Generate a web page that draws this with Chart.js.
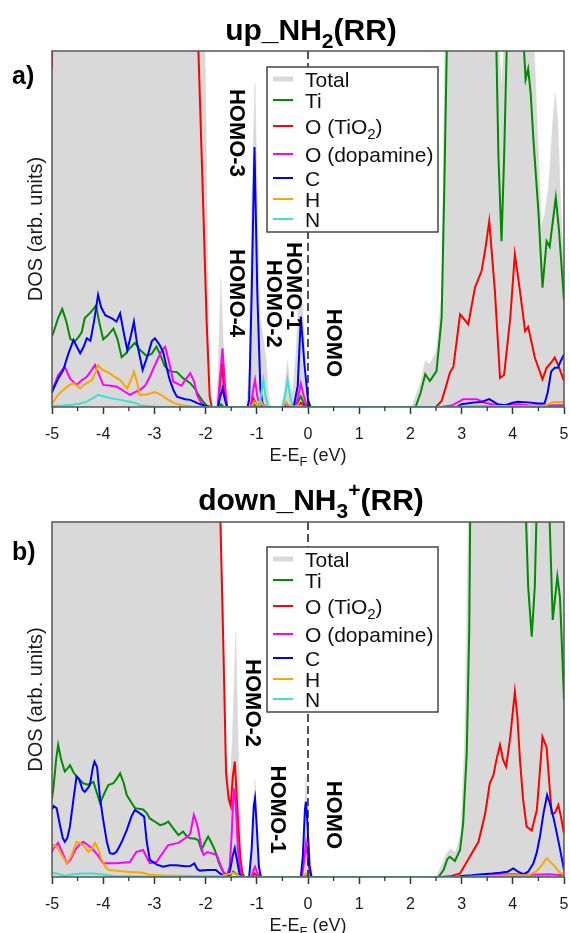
<!DOCTYPE html>
<html><head><meta charset="utf-8">
<script src="https://cdn.jsdelivr.net/npm/chart.js@4.4.1/dist/chart.umd.min.js"></script>
<style>
html,body{margin:0;padding:0;background:#fff;}
#wrap{position:relative;width:570px;height:933px;overflow:hidden;background:#fff;}
canvas{position:absolute;left:0;}
</style></head><body>
<div id="wrap">
<canvas id="cA" width="570" height="470" style="top:0px"></canvas>
<canvas id="cB" width="570" height="463" style="top:470px"></canvas>
</div>
<script>
// ---------------- DATA ----------------
const energyMin = -5, energyMax = 5, energyStep = 1;
const seriesNames = ['Total', 'Ti', 'O (TiO_{2})', 'O (dopamine)', 'C', 'H', 'N'];
const xTitle = 'E-E_{F} (eV)';
const yTitle = 'DOS (arb. units)';
const titleUp = 'up_NH_{2}(RR)';
const titleDown = 'down_NH_{3}^{+}(RR)';

// panel a) up_NH2(RR)  [energy eV, DOS arb.]
const upTotal = [[-5,160],[-2.05,160],[-2.01,100],[-1.92,0],[-1.80,0],[-1.76,8],[-1.70,36],[-1.64,12],[-1.58,0],[-1.20,0],[-1.15,10],[-1.10,58],[-1.035,91],[-0.99,58],[-0.94,25],[-0.88,20],[-0.82,14],[-0.77,3],[-0.72,0],[-0.52,0],[-0.46,5],[-0.40,13],[-0.35,6],[-0.30,4],[-0.24,14],[-0.19,28],[-0.14,34],[-0.08,22],[-0.03,8],[0.04,0],[2.02,0],[2.10,3],[2.20,7],[2.29,13],[2.38,12],[2.51,16],[2.61,32],[2.67,100],[2.72,160],[3.62,160],[3.70,110],[3.78,90],[3.86,110],[3.94,160],[4.38,160],[4.42,100],[4.50,72],[4.56,51],[4.62,54],[4.70,62],[4.78,80],[4.83,88],[4.88,80],[4.94,55],[5,39]];
const upTi = [[-5,20],[-4.97,21],[-4.88,25],[-4.80,27.5],[-4.72,24],[-4.64,19],[-4.55,18.5],[-4.49,19.5],[-4.42,21],[-4.36,25],[-4.25,26.5],[-4.14,28.5],[-4.08,24],[-4.00,19],[-3.92,20],[-3.80,22],[-3.72,19],[-3.64,14],[-3.56,15],[-3.48,16.5],[-3.38,18],[-3.28,16],[-3.15,14.3],[-3.05,15],[-2.96,17],[-2.88,14.5],[-2.80,11.5],[-2.70,10],[-2.56,9.8],[-2.44,8.1],[-2.30,6.7],[-2.20,5],[-2.14,3.4],[-2.05,1.5],[-1.95,0],[-1.75,0],[-1.70,0.8],[-1.65,0],[-1.10,0],[-1.04,0.8],[-0.98,0],[-0.25,0],[-0.14,3],[-0.05,0],[2.10,0],[2.20,4],[2.29,9.2],[2.38,7.3],[2.51,10.1],[2.61,25],[2.66,60],[2.71,100],[2.76,160],[3.62,160],[3.68,100],[3.72,70],[3.78,46.6],[3.83,70],[3.88,100],[3.92,160],[4.18,160],[4.22,100],[4.25,92],[4.30,95],[4.35,88],[4.40,75.6],[4.50,55],[4.58,33.5],[4.66,46.6],[4.72,45],[4.78,52],[4.84,58.8],[4.90,50],[4.96,38],[5,30]];
const upOTiO2 = [[-5,95],[-4.98,160],[-2.20,160],[-2.14,100],[-2.05,58],[-1.98,24],[-1.92,3],[-1.88,0],[-1.76,0],[-1.72,6],[-1.68,12.3],[-1.64,5],[-1.58,0],[-1.12,0],[-1.07,2.5],[-1.02,1],[-0.95,0.5],[-0.90,0],[-0.20,0],[-0.14,1.2],[-0.05,0],[2.50,0],[2.61,1.7],[2.70,6],[2.77,9.6],[2.84,11.3],[2.97,26],[3.03,25],[3.13,23.2],[3.26,33.5],[3.39,38.2],[3.47,45],[3.54,52.2],[3.65,32.6],[3.75,8.2],[3.83,9],[3.95,25],[4.04,42.9],[4.14,32.6],[4.24,21.3],[4.30,22.5],[4.43,13.9],[4.58,7.8],[4.66,11],[4.75,12.5],[4.82,13.9],[4.88,12],[5,7.3]];
const upODop = [[-5,5],[-4.97,5.6],[-4.88,9],[-4.75,11.3],[-4.65,8],[-4.52,6.2],[-4.42,7.5],[-4.32,8.5],[-4.22,10.5],[-4.16,11.8],[-4.08,9],[-4.00,6.2],[-3.85,6],[-3.73,5.7],[-3.60,4.5],[-3.48,3.4],[-3.38,4.2],[-3.29,4.7],[-3.18,6],[-3.09,8.5],[-2.95,13],[-2.85,16],[-2.79,16.9],[-2.72,13],[-2.63,7.1],[-2.47,6],[-2.38,8],[-2.30,9.5],[-2.22,7],[-2.17,3.5],[-2.08,1],[-2.00,0.3],[-1.90,0],[-1.76,0],[-1.72,8],[-1.67,16.5],[-1.62,6],[-1.58,0],[-1.12,0],[-1.08,4],[-1.035,7.6],[-0.99,3],[-0.95,1],[-0.90,1.2],[-0.86,0.5],[-0.80,0],[-0.48,0],[-0.42,1],[-0.36,0],[-0.25,0],[-0.19,3],[-0.14,6.6],[-0.09,3.5],[-0.03,0.5],[0.05,0],[2.60,0],[2.80,0.4],[2.95,1.5],[3.03,2.2],[3.30,2.2],[3.45,1.2],[3.60,0.8],[3.80,0.5],[4.10,0.8],[4.30,0.5],[4.60,0.4],[5,0.5]];
const upC = [[-5,4],[-4.97,5.2],[-4.88,8],[-4.78,10.4],[-4.68,15],[-4.58,18.8],[-4.50,16.5],[-4.45,15.1],[-4.38,17],[-4.32,19.3],[-4.25,18.6],[-4.18,24],[-4.10,31.5],[-4.04,28],[-3.96,25.8],[-3.83,24.9],[-3.74,24],[-3.67,26.3],[-3.60,21],[-3.53,16],[-3.46,20],[-3.40,24],[-3.34,18],[-3.23,10.4],[-3.12,15],[-3.05,18.5],[-2.99,19.3],[-2.90,17.5],[-2.83,15.5],[-2.76,11],[-2.70,7.6],[-2.62,4.5],[-2.56,2.9],[-2.40,2.2],[-2.30,2],[-2.15,1],[-2.00,0.3],[-1.90,0],[-1.76,0],[-1.72,2.5],[-1.67,5.2],[-1.62,2],[-1.58,0],[-1.18,0],[-1.15,2],[-1.10,32],[-1.045,73],[-0.99,32],[-0.93,5],[-0.88,0],[-0.28,0],[-0.20,6],[-0.14,25.4],[-0.07,12],[0.00,2],[0.05,0],[2.90,0],[3.00,0.8],[3.20,1.2],[3.40,1.5],[3.54,2.2],[3.70,0.8],[3.85,0.5],[4.00,1.2],[4.10,1.5],[4.30,1.3],[4.50,1.0],[4.62,1],[4.68,4],[4.75,10],[4.82,11],[4.88,11],[4.94,13],[5,14.8]];
const upH = [[-5,1],[-4.97,1.5],[-4.88,3.5],[-4.78,4.8],[-4.68,6],[-4.58,6.7],[-4.45,5.2],[-4.35,6.5],[-4.22,7.6],[-4.14,10],[-4.10,11.8],[-4.02,10.5],[-3.90,9.7],[-3.78,8.5],[-3.67,7.6],[-3.58,6],[-3.53,5.2],[-3.45,8],[-3.40,9.9],[-3.34,7],[-3.29,3.4],[-3.15,3.5],[-2.99,4.2],[-2.88,3.5],[-2.76,2.3],[-2.60,1],[-2.44,0.4],[-2.20,0.1],[-2.00,0],[-1.10,0],[-1.05,1.5],[-1.00,0.5],[-0.93,2],[-0.88,0.5],[-0.80,0],[-0.50,0],[-0.43,1.5],[-0.38,0.5],[-0.30,0],[-0.20,0.5],[-0.10,0],[2.90,0],[3.20,0.3],[4.00,0.3],[4.60,0.3],[4.70,0.8],[4.80,1.4],[5,1.4]];
const upN = [[-5,0.3],[-4.80,0.4],[-4.60,0.6],[-4.45,1],[-4.32,1.5],[-4.20,2.5],[-4.10,3.4],[-4.00,3],[-3.87,2.5],[-3.67,2],[-3.48,1.5],[-3.35,1],[-3.29,0.5],[-3.10,0.2],[-2.90,0],[-0.95,0],[-0.91,4],[-0.87,7.6],[-0.83,3],[-0.78,0],[-0.50,0],[-0.45,3],[-0.40,7.6],[-0.35,3],[-0.30,0],[5,0]];

// panel b) down_NH3+(RR)
const downTotal = [[-5,160],[-1.74,160],[-1.70,100],[-1.65,70],[-1.60,34],[-1.53,26],[-1.48,38],[-1.41,69],[-1.36,35],[-1.32,15],[-1.28,2],[-1.25,0],[-1.15,0],[-1.10,8],[-1.035,27.3],[-0.98,10],[-0.92,0],[-0.15,0],[-0.10,8],[-0.04,28.3],[0.02,10],[0.08,0],[2.50,0],[2.60,3],[2.70,6.5],[2.78,8],[2.88,7],[2.98,12],[3.06,38],[3.13,100],[3.18,160],[4.26,160],[4.33,84.5],[4.40,160],[5,160]];
const downTi = [[-5,22],[-4.97,25.4],[-4.92,33],[-4.88,37.2],[-4.82,33],[-4.75,29.7],[-4.70,30.5],[-4.65,31.5],[-4.58,29.5],[-4.52,28.3],[-4.39,26.4],[-4.30,26],[-4.19,26.8],[-4.12,23.5],[-4.06,20.8],[-3.98,23.5],[-3.90,25.9],[-3.80,26.4],[-3.72,28],[-3.67,29.2],[-3.60,26.5],[-3.54,23.1],[-3.45,21],[-3.38,19.4],[-3.22,19],[-3.15,18],[-3.09,16.5],[-2.98,15.5],[-2.89,14.6],[-2.80,15],[-2.73,15.6],[-2.62,13.5],[-2.53,11.8],[-2.44,12.8],[-2.37,11.5],[-2.30,10.9],[-2.20,10.8],[-2.14,10.3],[-2.08,7.6],[-2.02,9.5],[-1.95,11.4],[-1.88,9.5],[-1.82,7.6],[-1.74,4],[-1.66,1.5],[-1.58,0.5],[-1.52,0.5],[-1.46,1.5],[-1.40,0.8],[-1.32,0],[-0.10,0],[-0.04,0.8],[0.04,0],[2.55,0],[2.65,2],[2.72,5],[2.77,5.7],[2.87,4.5],[2.97,7.6],[3.03,15],[3.10,34.8],[3.15,70],[3.20,160],[4.22,160],[4.26,100],[4.30,81.8],[4.37,67.7],[4.43,81.8],[4.46,100],[4.50,160],[4.68,160],[4.72,100],[4.78,72.4],[4.87,84.6],[4.92,79],[4.96,65],[5,49.9]];
const downOTiO2 = [[-5,160],[-1.74,160],[-1.71,100],[-1.65,63],[-1.60,29.2],[-1.55,22],[-1.51,20],[-1.47,28],[-1.43,32.5],[-1.39,22],[-1.36,14],[-1.32,5],[-1.28,1],[-1.24,0],[-1.10,0],[-1.04,1],[-0.98,0],[2.60,0],[2.80,0.3],[2.97,1],[3.16,5.7],[3.33,9.9],[3.46,17.8],[3.55,26.4],[3.62,28.6],[3.68,33],[3.75,37.2],[3.81,33],[3.87,31.1],[3.95,39.4],[4.04,52.2],[4.09,45],[4.14,33],[4.20,22],[4.27,14.2],[4.37,13.1],[4.47,18.9],[4.53,30],[4.58,39.5],[4.62,38],[4.66,36.6],[4.71,27],[4.76,17.9],[4.82,18],[4.89,20.3],[4.94,17],[5,12.2]];
const downODop = [[-5,7],[-4.97,8.1],[-4.88,9.6],[-4.80,7],[-4.71,3.9],[-4.63,5],[-4.55,7.6],[-4.47,9],[-4.39,9.9],[-4.30,9],[-4.22,8.1],[-4.10,6],[-4.00,3.9],[-3.74,3.9],[-3.48,4.2],[-3.40,6],[-3.35,7.1],[-3.22,7.6],[-3.15,5.5],[-3.09,3.9],[-2.96,4.2],[-2.85,6.5],[-2.73,9],[-2.53,9.6],[-2.40,10.9],[-2.30,12.2],[-2.23,17.5],[-2.18,15.5],[-2.14,13.1],[-2.08,8],[-2.04,6.2],[-1.96,7],[-1.91,6.8],[-1.84,6.5],[-1.78,6.2],[-1.70,3],[-1.64,1],[-1.58,0.5],[-1.53,3],[-1.49,12],[-1.46,22],[-1.44,25],[-1.41,20],[-1.37,8],[-1.32,1],[-1.28,0],[-1.10,0],[-1.06,2],[-1.035,2.9],[-1.00,1.5],[-0.95,0],[-0.12,0],[-0.08,4],[-0.04,9.5],[0.00,5],[0.05,0],[3.00,0],[3.30,0.4],[3.60,0.6],[4.00,0.8],[4.40,0.6],[4.70,0.8],[5,0.5]];
const downC = [[-5,19],[-4.97,20],[-4.91,19.4],[-4.85,15],[-4.79,11],[-4.75,9.9],[-4.70,11],[-4.65,14.2],[-4.58,22],[-4.52,28.3],[-4.47,27.5],[-4.40,24.5],[-4.36,24],[-4.30,25],[-4.26,25.9],[-4.20,31],[-4.17,32.5],[-4.12,31],[-4.06,22],[-4.00,16.1],[-3.93,10],[-3.87,6.7],[-3.80,6.5],[-3.74,7.1],[-3.65,9.5],[-3.54,13.2],[-3.45,17],[-3.38,18.9],[-3.29,18],[-3.20,17],[-3.15,10],[-3.09,4.8],[-2.95,3.5],[-2.83,2.9],[-2.70,3.3],[-2.57,3.3],[-2.40,3],[-2.30,3.1],[-2.22,3.8],[-2.16,2.2],[-2.11,1.8],[-1.95,2],[-1.80,2],[-1.70,0.8],[-1.64,0.3],[-1.58,0],[-1.52,2],[-1.47,6],[-1.43,8.1],[-1.39,5],[-1.34,1],[-1.30,0],[-1.15,0],[-1.10,8],[-1.06,20],[-1.035,22.2],[-1.00,14],[-0.96,3],[-0.92,0],[-0.14,0],[-0.10,6],[-0.06,19],[-0.04,21.2],[-0.01,15],[0.03,3],[0.07,0],[2.90,0],[3.00,0.3],[3.20,0.5],[3.40,0.8],[3.60,1],[3.75,1.2],[3.90,1.5],[4.01,2.4],[4.10,1.5],[4.21,0.8],[4.30,1.5],[4.40,3.8],[4.47,7],[4.53,11.4],[4.60,18],[4.67,23.1],[4.72,21],[4.79,17],[4.85,13],[4.92,8],[5,2]];
const downH = [[-5,8],[-4.97,9],[-4.90,8.5],[-4.80,6],[-4.71,3.9],[-4.62,6],[-4.52,9.9],[-4.45,9.5],[-4.39,9],[-4.29,7.1],[-4.22,8],[-4.16,9.6],[-4.10,8],[-4.03,4.8],[-3.95,2.8],[-3.90,2],[-3.54,1.5],[-3.22,1.2],[-3.09,0.6],[-2.80,0.4],[-2.30,0.3],[-2.00,0.2],[-1.70,0.2],[-1.46,1.2],[-1.38,0.5],[-1.30,0],[-0.10,0],[-0.04,1],[0.03,0],[3.00,0],[3.50,0.3],[4.00,0.5],[4.30,0.5],[4.45,1.5],[4.55,3],[4.66,5.3],[4.75,4],[4.82,3],[4.90,1.5],[5,0.5]];
const downN = [[-5,1.2],[-4.90,1.0],[-4.75,0.3],[-4.60,0.8],[-4.40,1],[-4.20,1],[-4.00,0.7],[-3.80,0.3],[-3.50,0.2],[-3.00,0.1],[-2.50,0],[5,0]];

// HOMO annotations (energy, DOS)
const upHomoText = ['HOMO-3','HOMO-4','HOMO-2','HOMO-1','HOMO'];
const upHomoE = [-1.40,-1.40,-0.68,-0.30,0.49];
const upHomoDos = [77,32,29,34,18];
const downHomoText = ['HOMO-2','HOMO-1','HOMO'];
const downHomoE = [-1.10,-0.61,0.49];
const downHomoDos = [49,19,17.5];

// ---------------- STYLE ----------------
const FONT = '"Liberation Sans", Arial, Helvetica, sans-serif';
const seriesColors = ['rgb(217,217,217)','rgb(0,139,0)','rgb(255,0,0)','rgb(255,0,255)','rgb(0,0,255)','rgb(255,165,0)','rgb(64,224,208)'];

function parseRich(s){
  const out=[]; const re=/([_^])\{([^}]*)\}/g; let last=0,m;
  while((m=re.exec(s))){ if(m.index>last) out.push({t:s.slice(last,m.index),k:0}); out.push({t:m[2],k:m[1]==='_'?1:2}); last=re.lastIndex; }
  if(last<s.length) out.push({t:s.slice(last),k:0});
  return out;
}
function drawRich(ctx, s, x, y, size, weight, color, align){
  const segs=parseRich(s); let w=0;
  for(const g of segs){ const fs=g.k?Math.round(size*0.7):size; ctx.font=`${weight} ${fs}px ${FONT}`; g.w=ctx.measureText(g.t).width; w+=g.w; }
  let cx = align==='center'? x-w/2 : x;
  ctx.fillStyle=color; ctx.textAlign='left'; ctx.textBaseline='alphabetic';
  for(const g of segs){
    const fs=g.k?Math.round(size*0.7):size; ctx.font=`${weight} ${fs}px ${FONT}`;
    const dy = g.k===1? size*0.25 : (g.k===2? -size*0.42 : 0);
    ctx.fillText(g.t,cx,y+dy); cx+=g.w;
  }
}

const decor = {
  id:'decor',
  afterDatasetsDraw(chart, args, o){
    const {ctx, chartArea:a, scales:{x,y}} = chart;
    ctx.save();
    const x0 = x.getPixelForValue(0);
    ctx.strokeStyle='#1a1a1a'; ctx.lineWidth=1.5; ctx.setLineDash([8,4]);
    ctx.beginPath(); ctx.moveTo(x0,a.top); ctx.lineTo(x0,a.bottom); ctx.stroke(); ctx.setLineDash([]);
    ctx.fillStyle='#000'; ctx.font=`bold 22px ${FONT}`; ctx.textAlign='center'; ctx.textBaseline='middle';
    o.homoText.forEach((t,i)=>{ ctx.save(); ctx.translate(x.getPixelForValue(o.homoE[i]), y.getPixelForValue(o.homoV[i])); ctx.rotate(Math.PI/2); ctx.fillText(t,0,0); ctx.restore(); });
    const lx=a.left+o.legendDx, ly=a.top+o.legendDy, lw=171, lh=165;
    ctx.fillStyle='#fff'; ctx.fillRect(lx,ly,lw,lh);
    ctx.strokeStyle='#444'; ctx.lineWidth=1.5; ctx.strokeRect(lx,ly,lw,lh);
    const rows=[12,33,59,87,111,132,152];
    chart.data.datasets.forEach((d,i)=>{
      const ry=ly+rows[i];
      ctx.strokeStyle=d.borderColor; ctx.lineWidth=i===0?5:2;
      ctx.beginPath(); ctx.moveTo(lx+6,ry); ctx.lineTo(lx+26,ry); ctx.stroke();
      drawRich(ctx,d.label,lx+38,ry+7.5,21,'normal','#111','left');
    });
    ctx.strokeStyle='#555'; ctx.lineWidth=1.5; ctx.strokeRect(a.left,a.top,a.right-a.left,a.bottom-a.top);
    ctx.strokeStyle='#333'; ctx.lineWidth=1.3;
    for(let v=energyMin+energyStep/2; v<energyMax; v+=energyStep){ const px=x.getPixelForValue(v); ctx.beginPath(); ctx.moveTo(px,a.bottom); ctx.lineTo(px,a.bottom+4); ctx.stroke(); }
    ctx.restore();
  },
  afterDraw(chart, args, o){
    const {ctx, chartArea:a} = chart;
    ctx.save();
    drawRich(ctx, o.title, (a.left+a.right)/2+3, o.titleY, 30, 'bold', '#000', 'center');
    ctx.font=`bold 25px ${FONT}`; ctx.fillStyle='#000'; ctx.textAlign='left'; ctx.textBaseline='alphabetic';
    ctx.fillText(o.letter, 12, o.letterY);
    ctx.save(); ctx.translate(36,(a.top+a.bottom)/2); ctx.rotate(-Math.PI/2);
    ctx.font=`20px ${FONT}`; ctx.fillStyle='#1a1a1a'; ctx.textAlign='center'; ctx.textBaseline='middle';
    ctx.fillText(yTitle,0,0); ctx.restore();
    drawRich(ctx, xTitle, (a.left+a.right)/2, a.bottom+54, 18, 'normal', '#1a1a1a', 'center');
    ctx.restore();
  }
};

function mk(pairs){ return pairs.map(p=>({x:p[0], y:p[1]})); }
function buildDatasets(list){
  return list.map((arr,i)=>({
    label: seriesNames[i], data: mk(arr),
    borderColor: seriesColors[i], backgroundColor: seriesColors[i],
    fill: i===0 ? 'origin' : false,
    borderWidth: i===0 ? 0.5 : 2,
    pointRadius: 0, tension: 0,
    order: i===0 ? 10 : 7-i
  }));
}
function makeChart(id, lists, padTop, axisH, deco){
  return new Chart(document.getElementById(id), {
    type:'line',
    data:{ datasets: buildDatasets(lists) },
    options:{
      responsive:false, animation:false, devicePixelRatio:1, events:[],
      layout:{ padding:{ left:52, right:6, top:padTop, bottom:0 } },
      plugins:{ legend:{display:false}, tooltip:{enabled:false}, decor: deco },
      scales:{
        x:{ type:'linear', min:energyMin, max:energyMax,
            ticks:{ stepSize:energyStep, autoSkip:false, maxRotation:0, color:'#1a1a1a', font:{family:FONT, size:16}, padding:11 },
            grid:{ drawOnChartArea:false, drawTicks:true, tickLength:7, tickColor:'#333', tickWidth:1.5 },
            border:{ display:false },
            afterFit: s => { s.height = axisH; s.paddingLeft = 0; s.paddingRight = 0; } },
        y:{ display:false, min:0, max:100 }
      }
    },
    plugins:[decor]
  });
}

makeChart('cA', [upTotal, upTi, upOTiO2, upODop, upC, upH, upN], 51, 63,
  { title:titleUp, titleY:40, letter:'a)', letterY:84, legendDx:215, legendDy:16,
    homoText:upHomoText, homoE:upHomoE, homoV:upHomoDos });
makeChart('cB', [downTotal, downTi, downOTiO2, downODop, downC, downH, downN], 52, 56,
  { title:titleDown, titleY:40, letter:'b)', letterY:90, legendDx:215, legendDy:25,
    homoText:downHomoText, homoE:downHomoE, homoV:downHomoDos });
</script>
</body></html>
